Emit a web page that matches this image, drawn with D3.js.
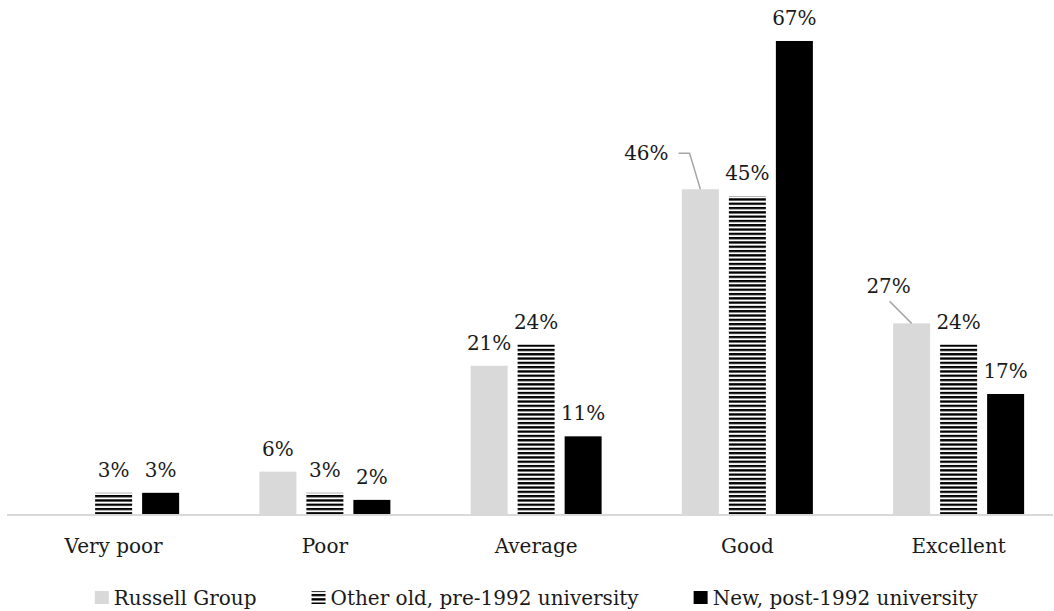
<!DOCTYPE html>
<html>
<head>
<meta charset="utf-8">
<script src="https://cdn.jsdelivr.net/npm/d3@7"></script>
<style>
  html, body { margin: 0; padding: 0; background: #fff; }
  svg { display: block; }
  text { font-family: "DejaVu Serif", serif; fill: #1a1a1a; }
</style>
</head>
<body>
<svg id="chart" width="1054" height="611"></svg>
<script>
// Ratings by university type (percent of respondents)
const categories = ["Very poor", "Poor", "Average", "Good", "Excellent"];
const seriesNames = ["Russell Group", "Other old, pre-1992 university", "New, post-1992 university"];
const russellGroup = [0, 6, 21, 46, 27];
const otherOld = [3, 3, 24, 45, 24];
const newPost1992 = [3, 2, 11, 67, 17];
const seriesValues = [russellGroup, otherOld, newPost1992];

const W = 1054, H = 611;
const svg = d3.select("#chart");

const defs = svg.append("defs");
// horizontal stripes for the pre-1992 series
const stripe = defs.append("pattern")
  .attr("id", "stripes")
  .attr("patternUnits", "userSpaceOnUse")
  .attr("width", 8).attr("height", 4.3)
  .attr("y", 0.5);
stripe.append("rect").attr("width", 8).attr("height", 4.3).attr("fill", "#fff");
stripe.append("rect").attr("width", 8).attr("height", 2.3).attr("fill", "#000");

const fills = ["#d9d9d9", "url(#stripes)", "#000"];

const x0 = d3.scaleBand().domain(categories).range([8, 1064.25]);
const x1 = d3.scaleBand().domain(seriesNames).range([-70.5, 70.5])
  .paddingInner(10 / 47).paddingOuter(5 / 47);
const y = d3.scaleLinear().domain([0, 100]).range([514, 514 - 706]);

const rows = [];
categories.forEach((c, i) => {
  seriesNames.forEach((s, j) => {
    rows.push({ cat: c, series: s, si: j, value: seriesValues[j][i] });
  });
});

// baseline
svg.append("line")
  .attr("x1", 7).attr("x2", 1053)
  .attr("y1", y(0) + 1).attr("y2", y(0) + 1)
  .attr("stroke", "#d9d9d9").attr("stroke-width", 2);

const bars = rows.filter(d => d.value > 0);
const bx = d => x0(d.cat) + x0.bandwidth() / 2 + x1(d.series);
const bcx = d => bx(d) + x1.bandwidth() / 2;

svg.append("g").selectAll("rect").data(bars).join("rect")
  .attr("x", bx)
  .attr("y", d => y(d.value))
  .attr("width", x1.bandwidth())
  .attr("height", d => y(0) - y(d.value))
  .attr("fill", d => fills[d.si]);

// value labels; two Russell Group labels sit off to the left with a leader line
const offsetLabels = {
  "Good": { dx: -54, dy: -29, elbow: true },
  "Excellent": { dx: -23, dy: -30, elbow: false }
};

const labelG = svg.append("g");
bars.forEach(d => {
  const cx = bcx(d), top = y(d.value);
  const off = d.si === 0 ? offsetLabels[d.cat] : null;
  const lx = off ? cx + off.dx : cx;
  const ly = off ? top + off.dy : top - 16;
  const t = labelG.append("text")
    .attr("x", lx).attr("y", ly)
    .attr("text-anchor", "middle")
    .attr("font-size", 20)
    .text(d.value + "%");
  if (off) {
    const w = t.node().getComputedTextLength();
    let pts;
    if (off.elbow) {
      const my = ly - 7;
      pts = [[lx + w / 2 + 10, my], [lx + w / 2 + 21, my], [cx, top]];
    } else {
      pts = [[lx + 1, ly + 8], [cx, top]];
    }
    labelG.append("path")
      .attr("d", d3.line()(pts))
      .attr("fill", "none")
      .attr("stroke", "#a6a6a6")
      .attr("stroke-width", 1.5);
  }
});

// category axis labels
svg.append("g").selectAll("text").data(categories).join("text")
  .attr("x", c => x0(c) + x0.bandwidth() / 2)
  .attr("y", 553)
  .attr("text-anchor", "middle")
  .attr("font-size", 20)
  .text(c => c);

// legend
const legend = svg.append("g");
const sw = 14, gapText = 5, gapItem = 55;
const items = seriesNames.map((s, j) => {
  const g = legend.append("g");
  g.append("rect")
    .attr("x", 0).attr("y", 591)
    .attr("width", sw).attr("height", 13)
    .attr("fill", fills[j]);
  const t = g.append("text")
    .attr("x", sw + gapText).attr("y", 605)
    .attr("font-size", 20)
    .text(s);
  return { g, w: sw + gapText + t.node().getComputedTextLength() };
});
const total = d3.sum(items, d => d.w) + gapItem * (items.length - 1);
let lx = (x0.range()[0] + x0.range()[1]) / 2 - total / 2;
items.forEach(it => {
  it.g.attr("transform", `translate(${lx},0)`);
  lx += it.w + gapItem;
});
</script>
</body>
</html>
